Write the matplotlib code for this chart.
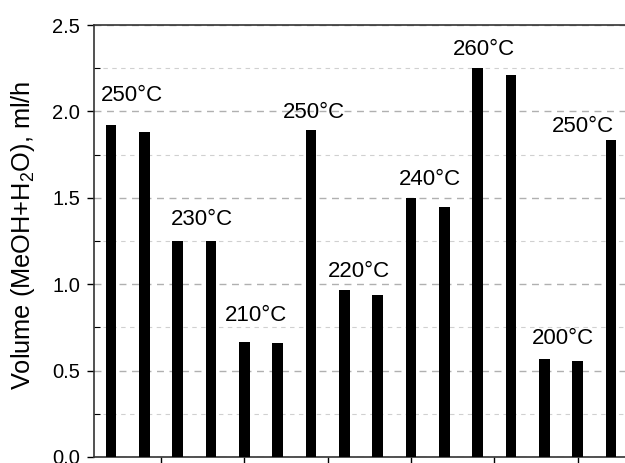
import matplotlib
matplotlib.use("Agg")
import matplotlib.pyplot as plt
from matplotlib.ticker import MultipleLocator, FixedLocator, NullFormatter

plt.rcParams['font.family'] = ['Liberation Sans', 'DejaVu Sans']
plt.rcParams['mathtext.default'] = 'regular'

# bar heights, ml/h (16 runs, left to right)
runs = list(range(1, 17))
volume = [1.92, 1.88, 1.25, 1.25, 0.665, 0.66, 1.89, 0.965, 0.94,
          1.50, 1.445, 2.25, 2.21, 0.565, 0.553, 1.835]

# temperature labels and where they sit
temp_labels = ["250°C", "230°C", "210°C", "250°C", "220°C",
               "240°C", "260°C", "200°C", "250°C"]
label_x = [1.62, 3.73, 5.35, 7.10, 8.45, 10.57, 12.19, 14.55, 15.16]
label_y = [2.06, 1.343, 0.787, 1.96, 1.043, 1.574, 2.326, 0.652, 1.883]

x_ticks = [2.5, 5, 7.5, 10, 12.5, 15]

fig = plt.figure(figsize=(6.25, 4.63), dpi=100)
ax = fig.add_axes([0.1504, 0.013, 0.8496, 0.933])

ax.bar(runs, volume, width=0.32, color="black", zorder=3)

for txt, x, y in zip(temp_labels, label_x, label_y):
    ax.text(x, y, txt, ha="center", va="baseline", fontsize=16, zorder=4)

ax.set_xlim(0.49, 16.42)
ax.set_ylim(0, 2.5)

ax.yaxis.set_major_locator(MultipleLocator(0.5))
ax.yaxis.set_minor_locator(MultipleLocator(0.25))
ax.xaxis.set_major_locator(FixedLocator(x_ticks))
ax.xaxis.set_major_formatter(NullFormatter())

ax.grid(which="major", axis="y", linestyle=(0, (5, 4)), color="#b0b0b0", linewidth=1.0, zorder=0)
ax.grid(which="minor", axis="y", linestyle=(0, (4, 4)), color="#d0d0d0", linewidth=0.8, zorder=0)

ax.tick_params(axis="y", which="major", direction="out", length=5, width=1.0, labelsize=14.5, pad=5)
ax.tick_params(axis="y", which="minor", direction="in", length=4, width=0.8)
ax.tick_params(axis="x", which="major", direction="out", length=5, width=1.0)

for side in ["left", "bottom", "top"]:
    ax.spines[side].set_linewidth(1.2)
    ax.spines[side].set_color("#333333")
ax.spines["right"].set_visible(False)

ax.set_ylabel("Volume (MeOH+H$_2$O), ml/h", fontsize=18.3)
ax.yaxis.set_label_coords(-0.107, 0.514)

fig.savefig("out.png", dpi=100)
